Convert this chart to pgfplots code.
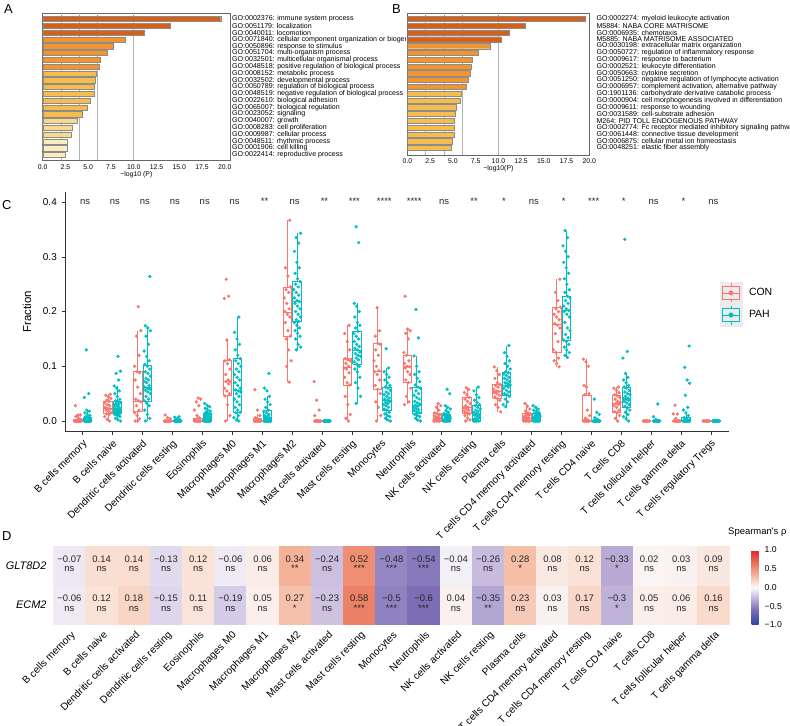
\documentclass[border=0pt]{standalone}
\usepackage{fontspec}
\setmainfont{Liberation Sans}
\usepackage{pgfplots}
\pgfplotsset{compat=1.18}
\usepackage{pgfplotstable}

\definecolor{conc}{HTML}{F8766D}
\definecolor{pahc}{HTML}{00BFC4}
\definecolor{bdark}{RGB}{214,96,26}
\definecolor{bor}{RGB}{242,148,48}
\definecolor{bgold}{RGB}{246,188,78}
\definecolor{blight}{RGB}{249,218,140}
\definecolor{bpale}{RGB}{251,237,190}

\newcommand{\fs}[1]{\fontsize{#1}{#1}\selectfont}
% box: position, lower whisker, q1, median, q3, upper whisker, colour
\newcommand{\bx}[7]{\addplot[#7, line width=0.5bp, mark=none, unbounded coords=jump, forget plot] table[row sep=\\, x expr={\thisrow{a}+#1}] {a b\\ -0.14 #3\\ 0.14 #3\\ 0.14 #5\\ -0.14 #5\\ -0.14 #3\\ nan nan\\ -0.14 #4\\ 0.14 #4\\ nan nan\\ 0 #5\\ 0 #6\\ nan nan\\ 0 #3\\ 0 #2\\};}
\newcommand{\cb}[6]{\bx{#1-0.16}{#2}{#3}{#4}{#5}{#6}{conc}}
\newcommand{\pb}[6]{\bx{#1+0.16}{#2}{#3}{#4}{#5}{#6}{pahc}}

\pgfplotsset{colormap={spear}{rgb255(0cm)=(38,72,158); rgb255(8cm)=(124,109,181); rgb255(10cm)=(143,130,193); rgb255(14cm)=(190,178,216); rgb255(17cm)=(222,214,236); rgb255(20cm)=(250,248,250); rgb255(23cm)=(250,220,206); rgb255(26cm)=(245,186,162); rgb255(31cm)=(238,136,108); rgb255(40cm)=(226,38,38)}}

\pgfplotstableread{
x y v lab sig
0 0 -0.06 −0.06 ns
1 0 0.12 0.12 ns
2 0 0.18 0.18 ns
3 0 -0.15 −0.15 ns
4 0 0.11 0.11 ns
5 0 -0.19 −0.19 ns
6 0 0.05 0.05 ns
7 0 0.27 0.27 *
8 0 -0.23 −0.23 ns
9 0 0.58 0.58 ***
10 0 -0.5 −0.5 ***
11 0 -0.6 −0.6 ***
12 0 0.04 0.04 ns
13 0 -0.35 −0.35 **
14 0 0.23 0.23 ns
15 0 0.03 0.03 ns
16 0 0.17 0.17 ns
17 0 -0.3 −0.3 *
18 0 0.05 0.05 ns
19 0 0.06 0.06 ns
20 0 0.16 0.16 ns
0 1 -0.07 −0.07 ns
1 1 0.14 0.14 ns
2 1 0.14 0.14 ns
3 1 -0.13 −0.13 ns
4 1 0.12 0.12 ns
5 1 -0.06 −0.06 ns
6 1 0.06 0.06 ns
7 1 0.34 0.34 **
8 1 -0.24 −0.24 ns
9 1 0.52 0.52 ***
10 1 -0.48 −0.48 ***
11 1 -0.54 −0.54 ***
12 1 -0.04 −0.04 ns
13 1 -0.26 −0.26 ns
14 1 0.28 0.28 *
15 1 0.08 0.08 ns
16 1 0.12 0.12 ns
17 1 -0.33 −0.33 *
18 1 0.02 0.02 ns
19 1 0.03 0.03 ns
20 1 0.09 0.09 ns
}\heat

\begin{document}
\begin{tikzpicture}
\useasboundingbox (0bp,0bp) rectangle (790bp,726bp);

% ---------------- Panel A
\begin{scope}
\clip (0bp,0bp) rectangle (405bp,726bp);
\begin{axis}[at={(42.7bp,566bp)}, anchor=south west, scale only axis,
  width=187.3bp, height=147bp,
  xmin=0, xmax=20.58, ymin=0.12, ymax=21.74, y dir=reverse,
  xbar,
  axis line style={black!60, line width=0.6bp},
  major tick length=0pt,
  xtick={0,2.5,5,7.5,10,12.5,15,17.5,20},
  xticklabels={0.0,2.5,5.0,7.5,10.0,12.5,15.0,17.5,20.0},
  xticklabel style={font=\fs{6.9}, inner sep=0pt, yshift=-4.5bp},
  extra x ticks={2,4,6,10}, extra x tick labels={},
  extra x tick style={grid=major, major grid style={black!30, line width=0.6bp}},
  ytick={1,...,21}, yticklabel pos=right,
  yticklabel style={font=\fs{7.1}, inner sep=0pt, xshift=2bp, anchor=west},
  yticklabels={GO:0002376: immune system process, GO:0051179: localization, GO:0040011: locomotion, GO:0071840: cellular component organization or biogenesis, GO:0050896: response to stimulus, GO:0051704: multi-organism process, GO:0032501: multicellular organismal process, GO:0048518: positive regulation of biological process, GO:0008152: metabolic process, GO:0032502: developmental process, GO:0050789: regulation of biological process, GO:0048519: negative regulation of biological process, GO:0022610: biological adhesion, GO:0065007: biological regulation, GO:0023052: signaling, GO:0040007: growth, GO:0008283: cell proliferation, GO:0009987: cellular process, GO:0048511: rhythmic process, GO:0001906: cell killing, GO:0022414: reproductive process},
  xlabel={−log10 (P)}, xlabel style={font=\fs{6.9}, inner sep=0pt, at={(axis description cs:0.5,-0.102)}, anchor=center},
]
\addplot[fill=bdark, draw=black!45, line width=0.4bp, bar width=5.2bp, bar shift=0pt] coordinates {(19.56,1) (13.99,2) (11.2,3)};
\addplot[fill=bor, draw=black!45, line width=0.4bp, bar width=5.2bp, bar shift=0pt] coordinates {(9.04,4) (7.8,5) (7.14,6) (6.3,7) (6.2,8)};
\addplot[fill=bgold, draw=black!45, line width=0.4bp, bar width=5.2bp, bar shift=0pt] coordinates {(5.93,9) (5.82,10) (5.71,11) (5.67,12) (5.27,13) (4.87,14) (4.35,15)};
\addplot[fill=blight, draw=black!45, line width=0.4bp, bar width=5.2bp, bar shift=0pt] coordinates {(3.8,16) (3.29,17) (3.11,18)};
\addplot[fill=bpale, draw=black!45, line width=0.4bp, bar width=5.2bp, bar shift=0pt] coordinates {(2.64,19) (2.64,20) (2.49,21)};
\end{axis}
\end{scope}

% ---------------- Panel B
\begin{axis}[at={(407.5bp,571bp)}, anchor=south west, scale only axis,
  width=181.8bp, height=142bp,
  xmin=0, xmax=20, ymin=0.12, ymax=21.03, y dir=reverse,
  xbar,
  axis line style={black!60, line width=0.6bp},
  major tick length=0pt,
  xtick={0,2.5,5,7.5,10,12.5,15,17.5,20},
  xticklabels={0.0,2.5,5.0,7.5,10.0,12.5,15.0,17.5,20.0},
  xticklabel style={font=\fs{6.9}, inner sep=0pt, yshift=-3.5bp},
  extra x ticks={2,4,6,10}, extra x tick labels={},
  extra x tick style={grid=major, major grid style={black!30, line width=0.6bp}},
  ytick={1,...,20}, yticklabel pos=right,
  yticklabel style={font=\fs{7.1}, inner sep=0pt, xshift=7bp, anchor=west},
  yticklabels={GO:0002274: myeloid leukocyte activation, M5884: NABA CORE MATRISOME, GO:0006935: chemotaxis, M5885: NABA MATRISOME ASSOCIATED, GO:0030198: extracellular matrix organization, GO:0050727: regulation of inflammatory response, GO:0009617: response to bacterium, GO:0002521: leukocyte differentiation, GO:0050663: cytokine secretion, GO:0051250: negative regulation of lymphocyte activation, {GO:0006957: complement activation, alternative pathway}, GO:1901136: carbohydrate derivative catabolic process, GO:0000904: cell morphogenesis involved in differentiation, GO:0009611: response to wounding, GO:0031589: cell-substrate adhesion, M264: PID TOLL ENDOGENOUS PATHWAY, GO:0002774: Fc receptor mediated inhibitory signaling pathway, GO:0061448: connective tissue development, GO:0006875: cellular metal ion homeostasis, GO:0048251: elastic fiber assembly},
  xlabel={−log10(P)}, xlabel style={font=\fs{6.9}, inner sep=0pt, at={(axis description cs:0.5,-0.0986)}, anchor=center},
]
\addplot[fill=bdark, draw=black!45, line width=0.4bp, bar width=5.2bp, bar shift=0pt] coordinates {(19.58,1) (12.99,2) (11.23,3) (10.27,4)};
\addplot[fill=bor, draw=black!45, line width=0.4bp, bar width=5.2bp, bar shift=0pt] coordinates {(9.07,5) (7.78,6) (7.12,7) (7.01,8) (6.94,9) (6.68,10) (6.46,11)};
\addplot[fill=bgold, draw=black!45, line width=0.4bp, bar width=5.2bp, bar shift=0pt] coordinates {(5.96,12) (5.8,13) (5.36,14) (5.29,15) (5.18,16) (5.14,17) (5.1,18) (4.93,19) (4.78,20)};
\end{axis}

% ---------------- Panel C
\begin{axis}[at={(65bp,294.3bp)}, anchor=south west, scale only axis,
  width=664bp, height=240bp,
  xmin=-0.59, xmax=21.6, ymin=-0.0195, ymax=0.419,
  axis x line*=bottom, axis y line*=left,
  axis line style={black!80, line width=0.6bp, -},
  tick align=outside, major tick length=3bp, tick style={black!80, line width=0.5bp},
  xtick={0,...,21},
  xticklabels={B cells memory, B cells naive, Dendritic cells activated, Dendritic cells resting, Eosinophils, Macrophages M0, Macrophages M1, Macrophages M2, Mast cells activated, Mast cells resting, Monocytes, Neutrophils, NK cells activated, NK cells resting, Plasma cells, T cells CD4 memory activated, T cells CD4 memory resting, T cells CD4 naive, T cells CD8, T cells follicular helper, T cells gamma delta, T cells regulatory Tregs},
  xticklabel style={font=\fs{10.2}, inner sep=0pt, yshift=-4bp, xshift=-0.5bp, rotate=45, anchor=north east},
  ytick={0,0.1,0.2,0.3,0.4}, yticklabels={0.0,0.1,0.2,0.3,0.4},
  yticklabel style={font=\fs{10}, inner sep=0pt, xshift=-5bp},
  ylabel={Fraction}, ylabel style={font=\fs{11.5}, inner sep=0pt, at={(axis description cs:-0.0572,0.5)}, anchor=center},
  legend style={at={(0.986,0.625)}, anchor=north west, draw=none, fill=none, inner sep=0pt, row sep=0pt, font=\fs{10.5}, nodes={inner sep=0pt}, /tikz/every odd column/.append style={column sep=7bp}},
  legend cell align=left,
]
\addlegendimage{legend image code/.code={\fill[black!8] (0bp,-10.85bp) rectangle (21.7bp,10.85bp);
  \draw[conc, line width=0.5bp] (10.85bp,6.3bp)--(10.85bp,9.5bp) (10.85bp,-6.3bp)--(10.85bp,-9.5bp);
  \draw[conc, line width=0.5bp] (2.5bp,-6.3bp) rectangle (19.2bp,6.3bp);
  \draw[conc, line width=0.5bp] (2.5bp,0bp)--(19.2bp,0bp);
  \fill[conc] (10.85bp,0bp) circle (2.3bp);}}
\addlegendentry{CON}
\addlegendimage{legend image code/.code={\fill[black!8] (0bp,-10.85bp) rectangle (21.7bp,10.85bp);
  \draw[pahc, line width=0.5bp] (10.85bp,6.3bp)--(10.85bp,9.5bp) (10.85bp,-6.3bp)--(10.85bp,-9.5bp);
  \draw[pahc, line width=0.5bp] (2.5bp,-6.3bp) rectangle (19.2bp,6.3bp);
  \draw[pahc, line width=0.5bp] (2.5bp,0bp)--(19.2bp,0bp);
  \fill[pahc] (10.85bp,0bp) circle (2.3bp);}}
\addlegendentry{PAH}

% boxes CON
\cb{0}{0}{0}{0}{0.004}{0.011}
\cb{1}{0}{0.0134}{0.023}{0.0365}{0.049}
\cb{2}{0}{0.017}{0.0365}{0.091}{0.165}
\cb{3}{0}{0}{0}{0.001}{0.003}
\cb{4}{0}{0}{0}{0.005}{0.012}
\cb{5}{0}{0.0463}{0.0718}{0.1114}{0.148}
\cb{6}{0}{0}{0}{0.005}{0.012}
\cb{7}{0.0706}{0.155}{0.198}{0.244}{0.367}
\cb{8}{0}{0}{0}{0}{0}
\cb{9}{0}{0.0658}{0.0974}{0.1145}{0.1753}
\cb{10}{0}{0.0584}{0.0901}{0.1419}{0.207}
\cb{11}{0.0304}{0.0706}{0.0992}{0.1205}{0.168}
\cb{12}{0}{0}{0.005}{0.0134}{0.032}
\cb{13}{0}{0.0134}{0.0244}{0.0426}{0.061}
\cb{14}{0.017}{0.0414}{0.0536}{0.067}{0.099}
\cb{15}{0}{0}{0.005}{0.0134}{0.032}
\cb{16}{0.099}{0.1254}{0.1766}{0.2076}{0.2594}
\cb{17}{0}{0}{0}{0.0475}{0.113}
\cb{18}{0}{0.0152}{0.032}{0.0475}{0.062}
\cb{19}{0}{0}{0}{0}{0}
\cb{20}{0}{0}{0}{0}{0}
\cb{21}{0}{0}{0}{0}{0}
% boxes PAH
\pb{0}{0}{0}{0}{0.007}{0.018}
\pb{1}{0}{0.0134}{0.022}{0.0365}{0.064}
\pb{2}{0}{0.0365}{0.0615}{0.1023}{0.174}
\pb{3}{0}{0}{0}{0.002}{0.005}
\pb{4}{0}{0}{0.003}{0.0134}{0.032}
\pb{5}{0}{0.0152}{0.0554}{0.114}{0.19}
\pb{6}{0}{0}{0.006}{0.019}{0.045}
\pb{7}{0.13}{0.1814}{0.218}{0.2545}{0.343}
\pb{8}{0}{0}{0}{0}{0}
\pb{9}{0.0323}{0.1035}{0.13}{0.1644}{0.215}
\pb{10}{0}{0.0201}{0.0384}{0.0615}{0.097}
\pb{11}{0}{0.015}{0.0292}{0.0615}{0.1193}
\pb{12}{0}{0}{0.004}{0.012}{0.028}
\pb{13}{0}{0}{0.011}{0.028}{0.062}
\pb{14}{0.026}{0.0475}{0.0658}{0.0883}{0.1376}
\pb{15}{0}{0}{0.005}{0.0134}{0.028}
\pb{16}{0.1157}{0.148}{0.202}{0.2283}{0.3476}
\pb{17}{0}{0}{0}{0.002}{0.005}
\pb{18}{0}{0.0244}{0.0414}{0.0615}{0.087}
\pb{19}{0}{0}{0}{0}{0.002}
\pb{20}{0}{0}{0}{0.006}{0.015}
\pb{21}{0}{0}{0}{0}{0}

% points CON
\addplot[only marks, mark=*, mark size=1.45bp, conc, mark options={draw=none, fill=conc}, forget plot]
 table[row sep=\\, x expr={\thisrow{c}-0.16+0.021*(mod(7*\coordindex,11)-5)}] {c y\\
0 0\\0 0\\0 0\\0 0\\0 0\\0 0\\0 0\\0 0\\0 0\\0 0\\0 0\\0 0\\0 0\\0 0\\0 0.003\\0 0.005\\0 0.008\\0 0.011\\0 0.011\\0 0.028\\
1 0\\1 0.003\\1 0.008\\1 0.012\\1 0.013\\1 0.015\\1 0.018\\1 0.02\\1 0.022\\1 0.023\\1 0.025\\1 0.028\\1 0.03\\1 0.033\\1 0.036\\1 0.038\\1 0.041\\1 0.044\\1 0.047\\1 0.049\\
2 0\\2 0\\2 0.004\\2 0.01\\2 0.015\\2 0.02\\2 0.028\\2 0.035\\2 0.037\\2 0.04\\2 0.05\\2 0.062\\2 0.075\\2 0.088\\2 0.09\\2 0.1\\2 0.12\\2 0.155\\2 0.165\\2 0.209\\
3 0\\3 0\\3 0\\3 0\\3 0\\3 0\\3 0\\3 0\\3 0\\3 0\\3 0\\3 0\\3 0.004\\3 0.006\\3 0.011\\
4 0\\4 0\\4 0\\4 0\\4 0\\4 0\\4 0\\4 0\\4 0\\4 0\\4 0.003\\4 0.006\\4 0.01\\4 0.02\\4 0.028\\4 0.035\\4 0.04\\4 0.042\\
5 0\\5 0.01\\5 0.03\\5 0.046\\5 0.05\\5 0.055\\5 0.06\\5 0.068\\5 0.072\\5 0.072\\5 0.075\\5 0.085\\5 0.095\\5 0.105\\5 0.11\\5 0.112\\5 0.148\\5 0.224\\5 0.228\\5 0.259\\
6 0\\6 0\\6 0\\6 0\\6 0\\6 0\\6 0\\6 0\\6 0\\6 0\\6 0\\6 0\\6 0.003\\6 0.006\\6 0.01\\6 0.02\\6 0.057\\
7 0.071\\7 0.1\\7 0.11\\7 0.13\\7 0.15\\7 0.155\\7 0.165\\7 0.18\\7 0.19\\7 0.195\\7 0.2\\7 0.205\\7 0.215\\7 0.225\\7 0.235\\7 0.24\\7 0.245\\7 0.265\\7 0.28\\7 0.367\\
8 0\\8 0\\8 0\\8 0\\8 0\\8 0\\8 0\\8 0\\8 0\\8 0\\8 0\\8 0\\8 0.01\\8 0.02\\8 0.038\\8 0.072\\
9 0\\9 0.005\\9 0.012\\9 0.03\\9 0.045\\9 0.066\\9 0.07\\9 0.08\\9 0.088\\9 0.095\\9 0.097\\9 0.1\\9 0.105\\9 0.11\\9 0.112\\9 0.114\\9 0.13\\9 0.145\\9 0.16\\9 0.175\\
10 0\\10 0.01\\10 0.025\\10 0.035\\10 0.05\\10 0.058\\10 0.065\\10 0.075\\10 0.085\\10 0.09\\10 0.092\\10 0.1\\10 0.11\\10 0.12\\10 0.13\\10 0.14\\10 0.142\\10 0.155\\10 0.165\\10 0.207\\
11 0.03\\11 0.035\\11 0.045\\11 0.06\\11 0.07\\11 0.075\\11 0.085\\11 0.09\\11 0.097\\11 0.099\\11 0.1\\11 0.105\\11 0.11\\11 0.12\\11 0.125\\11 0.15\\11 0.16\\11 0.165\\11 0.168\\11 0.228\\
12 0\\12 0\\12 0\\12 0\\12 0\\12 0\\12 0.002\\12 0.004\\12 0.005\\12 0.007\\12 0.009\\12 0.011\\12 0.013\\12 0.015\\12 0.02\\12 0.025\\12 0.028\\12 0.032\\
13 0\\13 0.002\\13 0.006\\13 0.01\\13 0.013\\13 0.015\\13 0.018\\13 0.02\\13 0.022\\13 0.024\\13 0.025\\13 0.028\\13 0.032\\13 0.036\\13 0.04\\13 0.043\\13 0.048\\13 0.052\\13 0.058\\13 0.061\\
14 0.017\\14 0.025\\14 0.03\\14 0.038\\14 0.041\\14 0.044\\14 0.047\\14 0.05\\14 0.052\\14 0.054\\14 0.055\\14 0.058\\14 0.062\\14 0.065\\14 0.067\\14 0.07\\14 0.078\\14 0.085\\14 0.092\\14 0.099\\
15 0\\15 0\\15 0\\15 0\\15 0\\15 0\\15 0.002\\15 0.003\\15 0.005\\15 0.006\\15 0.008\\15 0.01\\15 0.012\\15 0.013\\15 0.015\\15 0.018\\15 0.022\\15 0.027\\15 0.032\\
16 0.099\\16 0.105\\16 0.11\\16 0.115\\16 0.125\\16 0.13\\16 0.145\\16 0.16\\16 0.17\\16 0.175\\16 0.178\\16 0.185\\16 0.19\\16 0.195\\16 0.2\\16 0.205\\16 0.208\\16 0.22\\16 0.235\\16 0.259\\
17 0\\17 0\\17 0\\17 0\\17 0\\17 0\\17 0\\17 0\\17 0.002\\17 0.005\\17 0.01\\17 0.02\\17 0.048\\17 0.05\\17 0.062\\17 0.065\\17 0.1\\17 0.108\\17 0.113\\
18 0\\18 0.005\\18 0.01\\18 0.015\\18 0.017\\18 0.02\\18 0.025\\18 0.028\\18 0.03\\18 0.032\\18 0.034\\18 0.036\\18 0.04\\18 0.043\\18 0.046\\18 0.048\\18 0.052\\18 0.056\\18 0.06\\18 0.062\\
19 0\\19 0\\19 0\\19 0\\19 0\\19 0\\19 0\\19 0\\19 0\\19 0\\
20 0\\20 0\\20 0\\20 0\\20 0\\20 0\\20 0\\20 0\\20 0\\20 0\\20 0\\20 0\\20 0.005\\20 0.013\\20 0.013\\20 0.029\\
21 0\\21 0\\21 0\\21 0\\21 0\\21 0\\21 0\\21 0\\21 0\\21 0\\
};

% points PAH
\addplot[only marks, mark=*, mark size=1.45bp, pahc, mark options={draw=none, fill=pahc}, forget plot]
 table[row sep=\\, x expr={\thisrow{c}+0.16+0.021*(mod(7*\coordindex+3,11)-5)}] {c y\\
0 0\\0 0\\0 0\\0 0\\0 0\\0 0\\0 0\\0 0\\0 0\\0 0\\0 0\\0 0\\0 0\\0 0\\0 0\\0 0\\0 0\\0 0\\0 0\\0 0\\0 0.002\\0 0.003\\0 0.004\\0 0.005\\0 0.006\\0 0.008\\0 0.01\\0 0.012\\0 0.015\\0 0.018\\0 0.02\\0 0.043\\0 0.05\\0 0.13\\
1 0\\1 0.002\\1 0.005\\1 0.008\\1 0.01\\1 0.012\\1 0.013\\1 0.014\\1 0.015\\1 0.016\\1 0.017\\1 0.018\\1 0.019\\1 0.02\\1 0.021\\1 0.022\\1 0.023\\1 0.025\\1 0.027\\1 0.029\\1 0.03\\1 0.032\\1 0.034\\1 0.036\\1 0.037\\1 0.04\\1 0.045\\1 0.05\\1 0.055\\1 0.06\\1 0.064\\1 0.075\\1 0.087\\1 0.091\\1 0.118\\
2 0\\2 0.005\\2 0.012\\2 0.02\\2 0.028\\2 0.033\\2 0.037\\2 0.04\\2 0.045\\2 0.05\\2 0.053\\2 0.056\\2 0.058\\2 0.06\\2 0.062\\2 0.065\\2 0.07\\2 0.072\\2 0.075\\2 0.078\\2 0.082\\2 0.087\\2 0.09\\2 0.095\\2 0.1\\2 0.103\\2 0.11\\2 0.118\\2 0.128\\2 0.14\\2 0.155\\2 0.165\\2 0.17\\2 0.174\\2 0.264\\
3 0\\3 0\\3 0\\3 0\\3 0\\3 0\\3 0\\3 0\\3 0\\3 0\\3 0\\3 0\\3 0\\3 0\\3 0\\3 0\\3 0\\3 0\\3 0\\3 0\\3 0.002\\3 0.003\\3 0.005\\3 0.007\\3 0.008\\
4 0\\4 0\\4 0\\4 0\\4 0\\4 0\\4 0\\4 0\\4 0\\4 0\\4 0\\4 0\\4 0.002\\4 0.003\\4 0.004\\4 0.005\\4 0.006\\4 0.007\\4 0.008\\4 0.009\\4 0.01\\4 0.011\\4 0.012\\4 0.013\\4 0.014\\4 0.016\\4 0.018\\4 0.02\\4 0.023\\4 0.026\\4 0.029\\4 0.032\\
5 0\\5 0.002\\5 0.006\\5 0.01\\5 0.015\\5 0.016\\5 0.02\\5 0.025\\5 0.03\\5 0.035\\5 0.04\\5 0.045\\5 0.05\\5 0.053\\5 0.055\\5 0.057\\5 0.06\\5 0.065\\5 0.07\\5 0.075\\5 0.08\\5 0.085\\5 0.09\\5 0.095\\5 0.1\\5 0.105\\5 0.11\\5 0.114\\5 0.12\\5 0.13\\5 0.14\\5 0.15\\5 0.162\\5 0.19\\
6 0\\6 0\\6 0\\6 0\\6 0\\6 0\\6 0\\6 0\\6 0\\6 0\\6 0\\6 0\\6 0\\6 0\\6 0.002\\6 0.003\\6 0.004\\6 0.005\\6 0.006\\6 0.008\\6 0.01\\6 0.012\\6 0.015\\6 0.018\\6 0.02\\6 0.025\\6 0.03\\6 0.035\\6 0.04\\6 0.045\\6 0.055\\6 0.06\\6 0.087\\
7 0.13\\7 0.135\\7 0.14\\7 0.15\\7 0.155\\7 0.16\\7 0.165\\7 0.17\\7 0.175\\7 0.18\\7 0.182\\7 0.185\\7 0.19\\7 0.195\\7 0.2\\7 0.205\\7 0.21\\7 0.215\\7 0.218\\7 0.22\\7 0.225\\7 0.23\\7 0.235\\7 0.24\\7 0.245\\7 0.25\\7 0.255\\7 0.26\\7 0.27\\7 0.28\\7 0.29\\7 0.31\\7 0.325\\7 0.335\\7 0.343\\
8 0\\8 0\\8 0\\8 0\\8 0\\8 0\\8 0\\8 0\\8 0\\8 0\\8 0\\8 0\\8 0\\8 0\\8 0\\8 0\\8 0\\8 0\\8 0\\8 0\\
9 0.032\\9 0.045\\9 0.06\\9 0.07\\9 0.08\\9 0.09\\9 0.095\\9 0.1\\9 0.104\\9 0.108\\9 0.112\\9 0.115\\9 0.118\\9 0.12\\9 0.123\\9 0.126\\9 0.13\\9 0.133\\9 0.136\\9 0.14\\9 0.145\\9 0.15\\9 0.155\\9 0.16\\9 0.164\\9 0.17\\9 0.175\\9 0.18\\9 0.19\\9 0.2\\9 0.21\\9 0.215\\9 0.326\\9 0.355\\
10 0\\10 0.002\\10 0.005\\10 0.008\\10 0.01\\10 0.013\\10 0.016\\10 0.02\\10 0.022\\10 0.025\\10 0.028\\10 0.03\\10 0.032\\10 0.034\\10 0.036\\10 0.038\\10 0.04\\10 0.042\\10 0.045\\10 0.048\\10 0.05\\10 0.053\\10 0.056\\10 0.06\\10 0.062\\10 0.065\\10 0.07\\10 0.075\\10 0.08\\10 0.085\\10 0.09\\10 0.097\\10 0.132\\
11 0\\11 0.002\\11 0.005\\11 0.008\\11 0.01\\11 0.012\\11 0.015\\11 0.017\\11 0.019\\11 0.021\\11 0.023\\11 0.025\\11 0.027\\11 0.029\\11 0.031\\11 0.033\\11 0.036\\11 0.04\\11 0.043\\11 0.047\\11 0.05\\11 0.055\\11 0.06\\11 0.062\\11 0.066\\11 0.072\\11 0.078\\11 0.085\\11 0.09\\11 0.1\\11 0.119\\11 0.152\\11 0.204\\
12 0\\12 0\\12 0\\12 0\\12 0\\12 0\\12 0\\12 0\\12 0.002\\12 0.003\\12 0.004\\12 0.005\\12 0.006\\12 0.007\\12 0.008\\12 0.009\\12 0.01\\12 0.011\\12 0.012\\12 0.014\\12 0.016\\12 0.019\\12 0.022\\12 0.025\\12 0.028\\12 0.05\\12 0.058\\
13 0\\13 0\\13 0\\13 0\\13 0\\13 0\\13 0.002\\13 0.004\\13 0.005\\13 0.007\\13 0.009\\13 0.011\\13 0.012\\13 0.014\\13 0.016\\13 0.018\\13 0.02\\13 0.022\\13 0.025\\13 0.028\\13 0.03\\13 0.034\\13 0.038\\13 0.043\\13 0.048\\13 0.055\\13 0.062\\
14 0.026\\14 0.03\\14 0.035\\14 0.04\\14 0.045\\14 0.048\\14 0.05\\14 0.053\\14 0.056\\14 0.06\\14 0.062\\14 0.064\\14 0.066\\14 0.068\\14 0.07\\14 0.072\\14 0.075\\14 0.078\\14 0.08\\14 0.083\\14 0.086\\14 0.088\\14 0.09\\14 0.095\\14 0.1\\14 0.105\\14 0.11\\14 0.118\\14 0.125\\14 0.138\\
15 0\\15 0\\15 0\\15 0\\15 0\\15 0\\15 0\\15 0\\15 0.002\\15 0.003\\15 0.004\\15 0.005\\15 0.006\\15 0.007\\15 0.008\\15 0.009\\15 0.01\\15 0.011\\15 0.012\\15 0.013\\15 0.014\\15 0.016\\15 0.018\\15 0.02\\15 0.022\\15 0.025\\15 0.028\\
16 0.116\\16 0.12\\16 0.125\\16 0.13\\16 0.135\\16 0.14\\16 0.145\\16 0.148\\16 0.152\\16 0.158\\16 0.165\\16 0.17\\16 0.18\\16 0.19\\16 0.195\\16 0.2\\16 0.202\\16 0.205\\16 0.21\\16 0.215\\16 0.22\\16 0.225\\16 0.228\\16 0.235\\16 0.24\\16 0.25\\16 0.26\\16 0.27\\16 0.28\\16 0.29\\16 0.3\\16 0.31\\16 0.32\\16 0.335\\16 0.348\\
17 0\\17 0\\17 0\\17 0\\17 0\\17 0\\17 0\\17 0\\17 0\\17 0\\17 0\\17 0\\17 0\\17 0\\17 0\\17 0\\17 0\\17 0\\17 0\\17 0\\17 0.003\\17 0.006\\17 0.012\\17 0.016\\17 0.04\\
18 0\\18 0.004\\18 0.008\\18 0.012\\18 0.016\\18 0.02\\18 0.024\\18 0.027\\18 0.03\\18 0.033\\18 0.036\\18 0.038\\18 0.04\\18 0.041\\18 0.042\\18 0.045\\18 0.048\\18 0.05\\18 0.053\\18 0.056\\18 0.06\\18 0.062\\18 0.065\\18 0.07\\18 0.075\\18 0.08\\18 0.087\\18 0.115\\18 0.127\\18 0.332\\
19 0\\19 0\\19 0\\19 0\\19 0\\19 0\\19 0\\19 0\\19 0\\19 0\\19 0\\19 0\\19 0\\19 0\\19 0\\19 0.003\\19 0.008\\19 0.031\\
20 0\\20 0\\20 0\\20 0\\20 0\\20 0\\20 0\\20 0\\20 0\\20 0\\20 0\\20 0\\20 0\\20 0\\20 0\\20 0.002\\20 0.004\\20 0.006\\20 0.01\\20 0.015\\20 0.02\\20 0.025\\20 0.047\\20 0.069\\20 0.075\\20 0.098\\20 0.137\\
21 0\\21 0\\21 0\\21 0\\21 0\\21 0\\21 0\\21 0\\21 0\\21 0\\21 0\\21 0\\21 0\\21 0\\21 0\\21 0\\21 0\\21 0\\21 0\\21 0\\
};

% significance labels (text)
\pgfplotsinvokeforeach{0,1,2,3,4,5,7,12,15,19,21}{\node[anchor=base, inner sep=0pt, font=\fs{9.5}, text=black!85] at (axis cs:#1+0.08,0.3955) {ns};}
\pgfplotsinvokeforeach{14,16,18,20}{\node[anchor=base, inner sep=0pt, font=\fs{9.5}, text=black!85] at (axis cs:#1+0.08,0.3955) {*};}
\pgfplotsinvokeforeach{6,8,13}{\node[anchor=base, inner sep=0pt, font=\fs{9.5}, text=black!85] at (axis cs:#1+0.08,0.3955) {**};}
\pgfplotsinvokeforeach{9,17}{\node[anchor=base, inner sep=0pt, font=\fs{9.5}, text=black!85] at (axis cs:#1+0.08,0.3955) {***};}
\pgfplotsinvokeforeach{10,11}{\node[anchor=base, inner sep=0pt, font=\fs{9.5}, text=black!85] at (axis cs:#1+0.08,0.3955) {****};}
\end{axis}

% ---------------- Panel D
\begin{axis}[at={(53.3bp,101.7bp)}, anchor=south west, scale only axis,
  width=676.3bp, height=78.6bp,
  xmin=-0.5, xmax=20.5, ymin=-0.5, ymax=1.5, enlargelimits=false,
  axis line style={draw=none}, major tick length=0pt,
  xtick={0,...,20},
  xticklabels={B cells memory, B cells naive, Dendritic cells activated, Dendritic cells resting, Eosinophils, Macrophages M0, Macrophages M1, Macrophages M2, Mast cells activated, Mast cells resting, Monocytes, Neutrophils, NK cells activated, NK cells resting, Plasma cells, T cells CD4 memory activated, T cells CD4 memory resting, T cells CD4 naive, T cells CD8, T cells follicular helper, T cells gamma delta},
  xticklabel style={font=\fs{10.2}, inner sep=0pt, yshift=-6bp, xshift=1bp, rotate=45, anchor=north east},
  ytick={0,1}, yticklabels={ECM2,GLT8D2},
  yticklabel style={font=\fs{11}\itshape, inner sep=0pt, xshift=-6.6bp},
  colormap name=spear, point meta min=-1, point meta max=1,
  colorbar,
  colorbar style={at={(parent axis.north east)}, anchor=north west, xshift=13.4bp, yshift=-4.3bp,
    scale only axis, width=7bp, height=75bp,
    ytick={-1,-0.5,0,0.5,1}, yticklabels={−1.0,−0.5,0.0,0.5,1.0},
    yticklabel style={font=\fs{8.7}, inner sep=0pt, xshift=6bp, anchor=west},
    axis line style={draw=none}, major tick length=0pt},
]
\addplot[matrix plot*, mesh/cols=21, point meta=explicit] table[x=x, y=y, meta=v] {\heat};
\addplot[only marks, mark=none, point meta=explicit symbolic, nodes near coords={\pgfplotspointmeta},
  nodes near coords style={anchor=base, inner sep=0pt, font=\fs{9.5}, text=black!85}]
  table[x=x, y expr=\thisrow{y}+0.085, meta=lab] {\heat};
\addplot[only marks, mark=none, point meta=explicit symbolic, nodes near coords={\pgfplotspointmeta},
  nodes near coords style={anchor=base, inner sep=0pt, font=\fs{9.5}, text=black!85}]
  table[x=x, y expr=\thisrow{y}-0.163, meta=sig] {\heat};
\end{axis}

% panel letters and legend title
\node[anchor=west, inner sep=0pt, font=\fs{13}] at (4bp,717bp) {A};
\node[anchor=west, inner sep=0pt, font=\fs{13}] at (392bp,717bp) {B};
\node[anchor=west, inner sep=0pt, font=\fs{13}] at (2bp,521bp) {C};
\node[anchor=west, inner sep=0pt, font=\fs{13}] at (2bp,190bp) {D};
\node[anchor=west, inner sep=0pt, font=\fs{9.5}] at (728bp,194bp) {Spearman\textquotesingle s ρ};
\end{tikzpicture}
\end{document}
